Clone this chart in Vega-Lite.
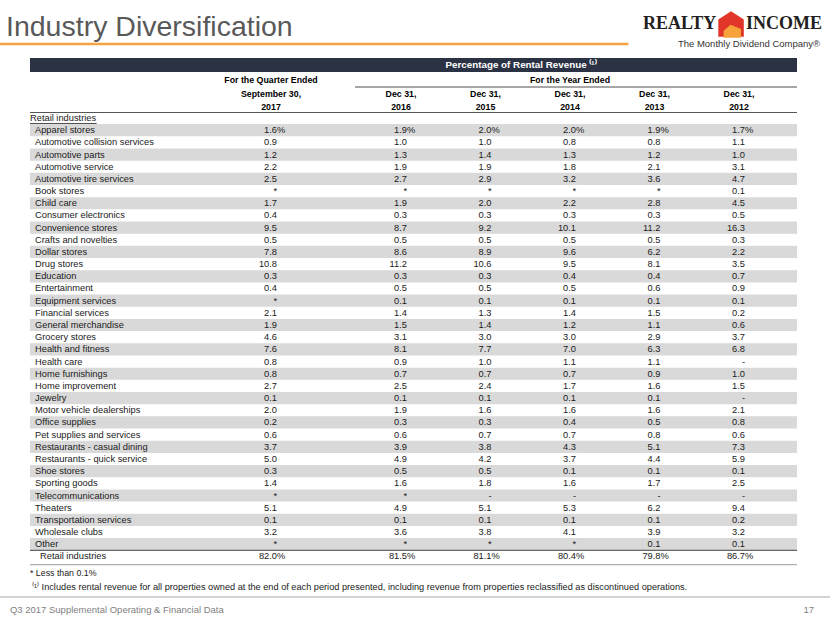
{
  "$schema": "https://vega.github.io/schema/vega-lite/v6.json",
  "width": 830,
  "height": 623,
  "autosize": "none",
  "padding": 0,
  "background": "white",
  "config": {"view": {"stroke": null}, "text": {"font": "Liberation Sans", "fontSize": 9.3, "color": "#1a1a1a", "baseline": "middle"}},
  "data": {"values": [{"n": 1}]},
  "datasets": {
    "body": [
      {"row": 0, "label": "Apparel stores", "q3_2017": "1.6", "dec_2016": "1.9", "dec_2015": "2.0", "dec_2014": "2.0", "dec_2013": "1.9", "dec_2012": "1.7", "unit": "%"},
      {"row": 1, "label": "Automotive collision services", "q3_2017": "0.9", "dec_2016": "1.0", "dec_2015": "1.0", "dec_2014": "0.8", "dec_2013": "0.8", "dec_2012": "1.1"},
      {"row": 2, "label": "Automotive parts", "q3_2017": "1.2", "dec_2016": "1.3", "dec_2015": "1.4", "dec_2014": "1.3", "dec_2013": "1.2", "dec_2012": "1.0"},
      {"row": 3, "label": "Automotive service", "q3_2017": "2.2", "dec_2016": "1.9", "dec_2015": "1.9", "dec_2014": "1.8", "dec_2013": "2.1", "dec_2012": "3.1"},
      {"row": 4, "label": "Automotive tire services", "q3_2017": "2.5", "dec_2016": "2.7", "dec_2015": "2.9", "dec_2014": "3.2", "dec_2013": "3.6", "dec_2012": "4.7"},
      {"row": 5, "label": "Book stores", "q3_2017": "*", "dec_2016": "*", "dec_2015": "*", "dec_2014": "*", "dec_2013": "*", "dec_2012": "0.1"},
      {"row": 6, "label": "Child care", "q3_2017": "1.7", "dec_2016": "1.9", "dec_2015": "2.0", "dec_2014": "2.2", "dec_2013": "2.8", "dec_2012": "4.5"},
      {"row": 7, "label": "Consumer electronics", "q3_2017": "0.4", "dec_2016": "0.3", "dec_2015": "0.3", "dec_2014": "0.3", "dec_2013": "0.3", "dec_2012": "0.5"},
      {"row": 8, "label": "Convenience stores", "q3_2017": "9.5", "dec_2016": "8.7", "dec_2015": "9.2", "dec_2014": "10.1", "dec_2013": "11.2", "dec_2012": "16.3"},
      {"row": 9, "label": "Crafts and novelties", "q3_2017": "0.5", "dec_2016": "0.5", "dec_2015": "0.5", "dec_2014": "0.5", "dec_2013": "0.5", "dec_2012": "0.3"},
      {"row": 10, "label": "Dollar stores", "q3_2017": "7.8", "dec_2016": "8.6", "dec_2015": "8.9", "dec_2014": "9.6", "dec_2013": "6.2", "dec_2012": "2.2"},
      {"row": 11, "label": "Drug stores", "q3_2017": "10.8", "dec_2016": "11.2", "dec_2015": "10.6", "dec_2014": "9.5", "dec_2013": "8.1", "dec_2012": "3.5"},
      {"row": 12, "label": "Education", "q3_2017": "0.3", "dec_2016": "0.3", "dec_2015": "0.3", "dec_2014": "0.4", "dec_2013": "0.4", "dec_2012": "0.7"},
      {"row": 13, "label": "Entertainment", "q3_2017": "0.4", "dec_2016": "0.5", "dec_2015": "0.5", "dec_2014": "0.5", "dec_2013": "0.6", "dec_2012": "0.9"},
      {"row": 14, "label": "Equipment services", "q3_2017": "*", "dec_2016": "0.1", "dec_2015": "0.1", "dec_2014": "0.1", "dec_2013": "0.1", "dec_2012": "0.1"},
      {"row": 15, "label": "Financial services", "q3_2017": "2.1", "dec_2016": "1.4", "dec_2015": "1.3", "dec_2014": "1.4", "dec_2013": "1.5", "dec_2012": "0.2"},
      {"row": 16, "label": "General merchandise", "q3_2017": "1.9", "dec_2016": "1.5", "dec_2015": "1.4", "dec_2014": "1.2", "dec_2013": "1.1", "dec_2012": "0.6"},
      {"row": 17, "label": "Grocery stores", "q3_2017": "4.6", "dec_2016": "3.1", "dec_2015": "3.0", "dec_2014": "3.0", "dec_2013": "2.9", "dec_2012": "3.7"},
      {"row": 18, "label": "Health and fitness", "q3_2017": "7.6", "dec_2016": "8.1", "dec_2015": "7.7", "dec_2014": "7.0", "dec_2013": "6.3", "dec_2012": "6.8"},
      {"row": 19, "label": "Health care", "q3_2017": "0.8", "dec_2016": "0.9", "dec_2015": "1.0", "dec_2014": "1.1", "dec_2013": "1.1", "dec_2012": "-"},
      {"row": 20, "label": "Home furnishings", "q3_2017": "0.8", "dec_2016": "0.7", "dec_2015": "0.7", "dec_2014": "0.7", "dec_2013": "0.9", "dec_2012": "1.0"},
      {"row": 21, "label": "Home improvement", "q3_2017": "2.7", "dec_2016": "2.5", "dec_2015": "2.4", "dec_2014": "1.7", "dec_2013": "1.6", "dec_2012": "1.5"},
      {"row": 22, "label": "Jewelry", "q3_2017": "0.1", "dec_2016": "0.1", "dec_2015": "0.1", "dec_2014": "0.1", "dec_2013": "0.1", "dec_2012": "-"},
      {"row": 23, "label": "Motor vehicle dealerships", "q3_2017": "2.0", "dec_2016": "1.9", "dec_2015": "1.6", "dec_2014": "1.6", "dec_2013": "1.6", "dec_2012": "2.1"},
      {"row": 24, "label": "Office supplies", "q3_2017": "0.2", "dec_2016": "0.3", "dec_2015": "0.3", "dec_2014": "0.4", "dec_2013": "0.5", "dec_2012": "0.8"},
      {"row": 25, "label": "Pet supplies and services", "q3_2017": "0.6", "dec_2016": "0.6", "dec_2015": "0.7", "dec_2014": "0.7", "dec_2013": "0.8", "dec_2012": "0.6"},
      {"row": 26, "label": "Restaurants - casual dining", "q3_2017": "3.7", "dec_2016": "3.9", "dec_2015": "3.8", "dec_2014": "4.3", "dec_2013": "5.1", "dec_2012": "7.3"},
      {"row": 27, "label": "Restaurants - quick service", "q3_2017": "5.0", "dec_2016": "4.9", "dec_2015": "4.2", "dec_2014": "3.7", "dec_2013": "4.4", "dec_2012": "5.9"},
      {"row": 28, "label": "Shoe stores", "q3_2017": "0.3", "dec_2016": "0.5", "dec_2015": "0.5", "dec_2014": "0.1", "dec_2013": "0.1", "dec_2012": "0.1"},
      {"row": 29, "label": "Sporting goods", "q3_2017": "1.4", "dec_2016": "1.6", "dec_2015": "1.8", "dec_2014": "1.6", "dec_2013": "1.7", "dec_2012": "2.5"},
      {"row": 30, "label": "Telecommunications", "q3_2017": "*", "dec_2016": "*", "dec_2015": "-", "dec_2014": "-", "dec_2013": "-", "dec_2012": "-"},
      {"row": 31, "label": "Theaters", "q3_2017": "5.1", "dec_2016": "4.9", "dec_2015": "5.1", "dec_2014": "5.3", "dec_2013": "6.2", "dec_2012": "9.4"},
      {"row": 32, "label": "Transportation services", "q3_2017": "0.1", "dec_2016": "0.1", "dec_2015": "0.1", "dec_2014": "0.1", "dec_2013": "0.1", "dec_2012": "0.2"},
      {"row": 33, "label": "Wholesale clubs", "q3_2017": "3.2", "dec_2016": "3.6", "dec_2015": "3.8", "dec_2014": "4.1", "dec_2013": "3.9", "dec_2012": "3.2"},
      {"row": 34, "label": "Other", "q3_2017": "*", "dec_2016": "*", "dec_2015": "*", "dec_2014": "*", "dec_2013": "0.1", "dec_2012": "0.1"},
      {"row": 35, "label": "Retail industries", "q3_2017": "82.0", "dec_2016": "81.5", "dec_2015": "81.1", "dec_2014": "80.4", "dec_2013": "79.8", "dec_2012": "86.7", "unit": "%"}
    ],
    "columns": [
      {"period": "q3_2017", "col": 1},
      {"period": "dec_2016", "col": 2},
      {"period": "dec_2015", "col": 3},
      {"period": "dec_2014", "col": 4},
      {"period": "dec_2013", "col": 5},
      {"period": "dec_2012", "col": 6}
    ],
    "heads": [
      {"col": 1, "line": -5, "text": "For the Quarter Ended"},
      {"col": 1, "line": -4, "text": "September 30,"},
      {"col": 1, "line": -3, "text": "2017"},
      {"col": 4, "line": -5, "text": "For the Year Ended"},
      {"col": 2, "line": -4, "text": "Dec 31,"},
      {"col": 2, "line": -3, "text": "2016"},
      {"col": 3, "line": -4, "text": "Dec 31,"},
      {"col": 3, "line": -3, "text": "2015"},
      {"col": 4, "line": -4, "text": "Dec 31,"},
      {"col": 4, "line": -3, "text": "2014"},
      {"col": 5, "line": -4, "text": "Dec 31,"},
      {"col": 5, "line": -3, "text": "2013"},
      {"col": 6, "line": -4, "text": "Dec 31,"},
      {"col": 6, "line": -3, "text": "2012"}
    ]
  },
  "layer": [
    {
      "data": {"name": "body"},
      "transform": [{"filter": "datum.row % 2 == 0 && datum.row < 35"}],
      "mark": {"type": "rule", "color": "#d9d9d9", "strokeWidth": 12.2, "strokeCap": "butt"},
      "encoding": {
        "x": {"datum": 0, "type": "quantitative", "axis": null, "scale": {"domain": [-1, 0, 1, 2, 6, 7, 8], "range": [0, 30, 277, 407, 745, 797, 830], "nice": false, "zero": false}},
        "x2": {"datum": 7},
        "y": {"field": "row", "type": "quantitative", "axis": null, "scale": {"domain": [-9, -8, -6, -5, -4, -3, -1, 35, 36, 37, 38, 39], "range": [24, 44, 65, 80, 94, 107, 118, 556.4, 573, 587, 597, 610], "nice": false, "zero": false}}
      }
    },
    {
      "mark": {"type": "rule", "color": "#2b3244", "strokeWidth": 14, "strokeCap": "butt"},
      "encoding": {
        "x": {"datum": 0, "type": "quantitative", "axis": null, "scale": {"domain": [-1, 0, 1, 2, 6, 7, 8], "range": [0, 30, 277, 407, 745, 797, 830], "nice": false, "zero": false}},
        "x2": {"datum": 7},
        "y": {"datum": -6, "type": "quantitative", "axis": null, "scale": {"domain": [-9, -8, -6, -5, -4, -3, -1, 35, 36, 37, 38, 39], "range": [24, 44, 65, 80, 94, 107, 118, 556.4, 573, 587, 597, 610], "nice": false, "zero": false}}
      }
    },
    {
      "mark": {"type": "text", "color": "white", "fontWeight": "bold", "fontSize": 9.8, "align": "center"},
      "encoding": {
        "text": {"value": "Percentage of Rental Revenue ⁽¹⁾"},
        "x": {"datum": 3.35, "type": "quantitative", "axis": null, "scale": {"domain": [-1, 0, 1, 2, 6, 7, 8], "range": [0, 30, 277, 407, 745, 797, 830], "nice": false, "zero": false}},
        "y": {"datum": -6, "type": "quantitative", "axis": null, "scale": {"domain": [-9, -8, -6, -5, -4, -3, -1, 35, 36, 37, 38, 39], "range": [24, 44, 65, 80, 94, 107, 118, 556.4, 573, 587, 597, 610], "nice": false, "zero": false}}
      }
    },
    {
      "data": {"name": "heads"},
      "mark": {"type": "text", "fontWeight": "bold", "fontSize": 8.8, "align": "center", "dx": -6, "color": "#000"},
      "encoding": {
        "text": {"field": "text", "type": "nominal"},
        "x": {"field": "col", "type": "quantitative", "axis": null, "scale": {"domain": [-1, 0, 1, 2, 6, 7, 8], "range": [0, 30, 277, 407, 745, 797, 830], "nice": false, "zero": false}},
        "y": {"field": "line", "type": "quantitative", "axis": null, "scale": {"domain": [-9, -8, -6, -5, -4, -3, -1, 35, 36, 37, 38, 39], "range": [24, 44, 65, 80, 94, 107, 118, 556.4, 573, 587, 597, 610], "nice": false, "zero": false}}
      }
    },
    {
      "mark": {"type": "rule", "color": "#222", "strokeWidth": 0.8},
      "encoding": {
        "x": {"datum": 1.6, "type": "quantitative", "axis": null, "scale": {"domain": [-1, 0, 1, 2, 6, 7, 8], "range": [0, 30, 277, 407, 745, 797, 830], "nice": false, "zero": false}},
        "x2": {"datum": 7},
        "y": {"datum": -4.5, "type": "quantitative", "axis": null, "scale": {"domain": [-9, -8, -6, -5, -4, -3, -1, 35, 36, 37, 38, 39], "range": [24, 44, 65, 80, 94, 107, 118, 556.4, 573, 587, 597, 610], "nice": false, "zero": false}}
      }
    },
    {
      "mark": {"type": "rule", "color": "#555", "strokeWidth": 1.2},
      "encoding": {
        "x": {"datum": 0, "type": "quantitative", "axis": null, "scale": {"domain": [-1, 0, 1, 2, 6, 7, 8], "range": [0, 30, 277, 407, 745, 797, 830], "nice": false, "zero": false}},
        "x2": {"datum": 7},
        "y": {"datum": -2, "type": "quantitative", "axis": null, "scale": {"domain": [-9, -8, -6, -5, -4, -3, -1, 35, 36, 37, 38, 39], "range": [24, 44, 65, 80, 94, 107, 118, 556.4, 573, 587, 597, 610], "nice": false, "zero": false}}
      }
    },
    {
      "mark": {"type": "text", "align": "left"},
      "encoding": {
        "text": {"value": "Retail industries"},
        "x": {"datum": 0, "type": "quantitative", "axis": null, "scale": {"domain": [-1, 0, 1, 2, 6, 7, 8], "range": [0, 30, 277, 407, 745, 797, 830], "nice": false, "zero": false}},
        "y": {"datum": -1, "type": "quantitative", "axis": null, "scale": {"domain": [-9, -8, -6, -5, -4, -3, -1, 35, 36, 37, 38, 39], "range": [24, 44, 65, 80, 94, 107, 118, 556.4, 573, 587, 597, 610], "nice": false, "zero": false}}
      }
    },
    {
      "mark": {"type": "rule", "color": "#222", "strokeWidth": 0.8},
      "encoding": {
        "x": {"datum": 0, "type": "quantitative", "axis": null, "scale": {"domain": [-1, 0, 1, 2, 6, 7, 8], "range": [0, 30, 277, 407, 745, 797, 830], "nice": false, "zero": false}},
        "x2": {"datum": 0.27},
        "y": {"datum": -0.55, "type": "quantitative", "axis": null, "scale": {"domain": [-9, -8, -6, -5, -4, -3, -1, 35, 36, 37, 38, 39], "range": [24, 44, 65, 80, 94, 107, 118, 556.4, 573, 587, 597, 610], "nice": false, "zero": false}}
      }
    },
    {
      "data": {"name": "body"},
      "transform": [{"filter": "datum.row < 35"}],
      "mark": {"type": "text", "align": "left", "dx": 5},
      "encoding": {
        "text": {"field": "label", "type": "nominal"},
        "x": {"datum": 0, "type": "quantitative", "axis": null, "scale": {"domain": [-1, 0, 1, 2, 6, 7, 8], "range": [0, 30, 277, 407, 745, 797, 830], "nice": false, "zero": false}},
        "y": {"field": "row", "type": "quantitative", "axis": null, "scale": {"domain": [-9, -8, -6, -5, -4, -3, -1, 35, 36, 37, 38, 39], "range": [24, 44, 65, 80, 94, 107, 118, 556.4, 573, 587, 597, 610], "nice": false, "zero": false}}
      }
    },
    {
      "data": {"name": "body"},
      "transform": [{"filter": "datum.row == 35"}],
      "mark": {"type": "text", "align": "left", "dx": 10},
      "encoding": {
        "text": {"field": "label", "type": "nominal"},
        "x": {"datum": 0, "type": "quantitative", "axis": null, "scale": {"domain": [-1, 0, 1, 2, 6, 7, 8], "range": [0, 30, 277, 407, 745, 797, 830], "nice": false, "zero": false}},
        "y": {"field": "row", "type": "quantitative", "axis": null, "scale": {"domain": [-9, -8, -6, -5, -4, -3, -1, 35, 36, 37, 38, 39], "range": [24, 44, 65, 80, 94, 107, 118, 556.4, 573, 587, 597, 610], "nice": false, "zero": false}}
      }
    },
    {
      "data": {"name": "body"},
      "transform": [
        {"fold": ["q3_2017", "dec_2016", "dec_2015", "dec_2014", "dec_2013", "dec_2012"], "as": ["period", "value"]},
        {"lookup": "period", "from": {"data": {"name": "columns"}, "key": "period", "fields": ["col"]}}
      ],
      "mark": {"type": "text", "align": "right"},
      "encoding": {
        "text": {"field": "value", "type": "nominal"},
        "x": {"field": "col", "type": "quantitative", "axis": null, "scale": {"domain": [-1, 0, 1, 2, 6, 7, 8], "range": [0, 30, 277, 407, 745, 797, 830], "nice": false, "zero": false}},
        "y": {"field": "row", "type": "quantitative", "axis": null, "scale": {"domain": [-9, -8, -6, -5, -4, -3, -1, 35, 36, 37, 38, 39], "range": [24, 44, 65, 80, 94, 107, 118, 556.4, 573, 587, 597, 610], "nice": false, "zero": false}}
      }
    },
    {
      "data": {"name": "body"},
      "transform": [
        {"filter": "datum.unit == '%'"},
        {"fold": ["q3_2017", "dec_2016", "dec_2015", "dec_2014", "dec_2013", "dec_2012"], "as": ["period", "value"]},
        {"lookup": "period", "from": {"data": {"name": "columns"}, "key": "period", "fields": ["col"]}}
      ],
      "mark": {"type": "text", "align": "left"},
      "encoding": {
        "text": {"field": "unit", "type": "nominal"},
        "x": {"field": "col", "type": "quantitative", "axis": null, "scale": {"domain": [-1, 0, 1, 2, 6, 7, 8], "range": [0, 30, 277, 407, 745, 797, 830], "nice": false, "zero": false}},
        "y": {"field": "row", "type": "quantitative", "axis": null, "scale": {"domain": [-9, -8, -6, -5, -4, -3, -1, 35, 36, 37, 38, 39], "range": [24, 44, 65, 80, 94, 107, 118, 556.4, 573, 587, 597, 610], "nice": false, "zero": false}}
      }
    },
    {
      "mark": {"type": "rule", "color": "#444", "strokeWidth": 1},
      "encoding": {
        "x": {"datum": 0, "type": "quantitative", "axis": null, "scale": {"domain": [-1, 0, 1, 2, 6, 7, 8], "range": [0, 30, 277, 407, 745, 797, 830], "nice": false, "zero": false}},
        "x2": {"datum": 7},
        "y": {"datum": 34.5, "type": "quantitative", "axis": null, "scale": {"domain": [-9, -8, -6, -5, -4, -3, -1, 35, 36, 37, 38, 39], "range": [24, 44, 65, 80, 94, 107, 118, 556.4, 573, 587, 597, 610], "nice": false, "zero": false}}
      }
    },
    {
      "mark": {"type": "rule", "color": "#9a9a9a", "strokeWidth": 1},
      "encoding": {
        "x": {"datum": 0, "type": "quantitative", "axis": null, "scale": {"domain": [-1, 0, 1, 2, 6, 7, 8], "range": [0, 30, 277, 407, 745, 797, 830], "nice": false, "zero": false}},
        "x2": {"datum": 7},
        "y": {"datum": 35.5, "type": "quantitative", "axis": null, "scale": {"domain": [-9, -8, -6, -5, -4, -3, -1, 35, 36, 37, 38, 39], "range": [24, 44, 65, 80, 94, 107, 118, 556.4, 573, 587, 597, 610], "nice": false, "zero": false}}
      }
    },
    {
      "mark": {"type": "text", "align": "left", "fontSize": 8.8},
      "encoding": {
        "text": {"value": "* Less than 0.1%"},
        "x": {"datum": 0, "type": "quantitative", "axis": null, "scale": {"domain": [-1, 0, 1, 2, 6, 7, 8], "range": [0, 30, 277, 407, 745, 797, 830], "nice": false, "zero": false}},
        "y": {"datum": 36, "type": "quantitative", "axis": null, "scale": {"domain": [-9, -8, -6, -5, -4, -3, -1, 35, 36, 37, 38, 39], "range": [24, 44, 65, 80, 94, 107, 118, 556.4, 573, 587, 597, 610], "nice": false, "zero": false}}
      }
    },
    {
      "mark": {"type": "text", "align": "left", "fontSize": 9.2, "dx": 2},
      "encoding": {
        "text": {"value": "⁽¹⁾ Includes rental revenue for all properties owned at the end of each period presented, including revenue from properties reclassified as discontinued operations."},
        "x": {"datum": 0, "type": "quantitative", "axis": null, "scale": {"domain": [-1, 0, 1, 2, 6, 7, 8], "range": [0, 30, 277, 407, 745, 797, 830], "nice": false, "zero": false}},
        "y": {"datum": 37, "type": "quantitative", "axis": null, "scale": {"domain": [-9, -8, -6, -5, -4, -3, -1, 35, 36, 37, 38, 39], "range": [24, 44, 65, 80, 94, 107, 118, 556.4, 573, 587, 597, 610], "nice": false, "zero": false}}
      }
    },
    {
      "mark": {"type": "rule", "color": "#d4d4d4", "strokeWidth": 2},
      "encoding": {
        "x": {"datum": -1, "type": "quantitative", "axis": null, "scale": {"domain": [-1, 0, 1, 2, 6, 7, 8], "range": [0, 30, 277, 407, 745, 797, 830], "nice": false, "zero": false}},
        "x2": {"datum": 8},
        "y": {"datum": 38, "type": "quantitative", "axis": null, "scale": {"domain": [-9, -8, -6, -5, -4, -3, -1, 35, 36, 37, 38, 39], "range": [24, 44, 65, 80, 94, 107, 118, 556.4, 573, 587, 597, 610], "nice": false, "zero": false}}
      }
    },
    {
      "mark": {"type": "text", "align": "left", "fontSize": 9.5, "color": "#7f7f7f"},
      "encoding": {
        "text": {"value": "Q3 2017 Supplemental Operating & Financial Data"},
        "x": {"datum": -0.67, "type": "quantitative", "axis": null, "scale": {"domain": [-1, 0, 1, 2, 6, 7, 8], "range": [0, 30, 277, 407, 745, 797, 830], "nice": false, "zero": false}},
        "y": {"datum": 39, "type": "quantitative", "axis": null, "scale": {"domain": [-9, -8, -6, -5, -4, -3, -1, 35, 36, 37, 38, 39], "range": [24, 44, 65, 80, 94, 107, 118, 556.4, 573, 587, 597, 610], "nice": false, "zero": false}}
      }
    },
    {
      "mark": {"type": "text", "align": "right", "fontSize": 9.5, "color": "#7f7f7f"},
      "encoding": {
        "text": {"value": "17"},
        "x": {"datum": 7.52, "type": "quantitative", "axis": null, "scale": {"domain": [-1, 0, 1, 2, 6, 7, 8], "range": [0, 30, 277, 407, 745, 797, 830], "nice": false, "zero": false}},
        "y": {"datum": 39, "type": "quantitative", "axis": null, "scale": {"domain": [-9, -8, -6, -5, -4, -3, -1, 35, 36, 37, 38, 39], "range": [24, 44, 65, 80, 94, 107, 118, 556.4, 573, 587, 597, 610], "nice": false, "zero": false}}
      }
    },
    {
      "mark": {"type": "text", "align": "left", "baseline": "alphabetic", "dy": 12, "fontSize": 28.5, "color": "#595959"},
      "encoding": {
        "text": {"value": "Industry Diversification"},
        "x": {"datum": -0.8, "type": "quantitative", "axis": null, "scale": {"domain": [-1, 0, 1, 2, 6, 7, 8], "range": [0, 30, 277, 407, 745, 797, 830], "nice": false, "zero": false}},
        "y": {"datum": -9, "type": "quantitative", "axis": null, "scale": {"domain": [-9, -8, -6, -5, -4, -3, -1, 35, 36, 37, 38, 39], "range": [24, 44, 65, 80, 94, 107, 118, 556.4, 573, 587, 597, 610], "nice": false, "zero": false}}
      }
    },
    {
      "mark": {"type": "rule", "color": "#f6a240", "strokeWidth": 2.5},
      "encoding": {
        "x": {"datum": -1, "type": "quantitative", "axis": null, "scale": {"domain": [-1, 0, 1, 2, 6, 7, 8], "range": [0, 30, 277, 407, 745, 797, 830], "nice": false, "zero": false}},
        "x2": {"datum": 4.62},
        "y": {"datum": -8, "type": "quantitative", "axis": null, "scale": {"domain": [-9, -8, -6, -5, -4, -3, -1, 35, 36, 37, 38, 39], "range": [24, 44, 65, 80, 94, 107, 118, 556.4, 573, 587, 597, 610], "nice": false, "zero": false}}
      }
    },
    {
      "mark": {"type": "text", "align": "right", "font": "Liberation Serif", "fontWeight": "bold", "fontSize": 18, "color": "#231f20"},
      "encoding": {
        "text": {"value": "REALTY"},
        "x": {"datum": 5.66, "type": "quantitative", "axis": null, "scale": {"domain": [-1, 0, 1, 2, 6, 7, 8], "range": [0, 30, 277, 407, 745, 797, 830], "nice": false, "zero": false}},
        "y": {"datum": -9, "type": "quantitative", "axis": null, "scale": {"domain": [-9, -8, -6, -5, -4, -3, -1, 35, 36, 37, 38, 39], "range": [24, 44, 65, 80, 94, 107, 118, 556.4, 573, 587, 597, 610], "nice": false, "zero": false}}
      }
    },
    {
      "mark": {"type": "text", "align": "left", "font": "Liberation Serif", "fontWeight": "bold", "fontSize": 18, "color": "#231f20"},
      "encoding": {
        "text": {"value": "INCOME"},
        "x": {"datum": 6.02, "type": "quantitative", "axis": null, "scale": {"domain": [-1, 0, 1, 2, 6, 7, 8], "range": [0, 30, 277, 407, 745, 797, 830], "nice": false, "zero": false}},
        "y": {"datum": -9, "type": "quantitative", "axis": null, "scale": {"domain": [-9, -8, -6, -5, -4, -3, -1, 35, 36, 37, 38, 39], "range": [24, 44, 65, 80, 94, 107, 118, 556.4, 573, 587, 597, 610], "nice": false, "zero": false}}
      }
    },
    {
      "mark": {"type": "point", "shape": "M0,-1L1,-0.35L1,1L-1,1L-1,-0.35Z", "filled": true, "color": "#e2352a", "opacity": 1, "size": 650},
      "encoding": {
        "x": {"datum": 5.835, "type": "quantitative", "axis": null, "scale": {"domain": [-1, 0, 1, 2, 6, 7, 8], "range": [0, 30, 277, 407, 745, 797, 830], "nice": false, "zero": false}},
        "y": {"datum": -9, "type": "quantitative", "axis": null, "scale": {"domain": [-9, -8, -6, -5, -4, -3, -1, 35, 36, 37, 38, 39], "range": [24, 44, 65, 80, 94, 107, 118, 556.4, 573, 587, 597, 610], "nice": false, "zero": false}}
      }
    },
    {
      "mark": {"type": "point", "shape": "M-0.2,-0.5L1,0L1,1L-1,1L-1,0.2Z", "filled": true, "color": "#f7a23b", "opacity": 1, "size": 300},
      "encoding": {
        "x": {"datum": 5.85, "type": "quantitative", "axis": null, "scale": {"domain": [-1, 0, 1, 2, 6, 7, 8], "range": [0, 30, 277, 407, 745, 797, 830], "nice": false, "zero": false}},
        "y": {"datum": -8.75, "type": "quantitative", "axis": null, "scale": {"domain": [-9, -8, -6, -5, -4, -3, -1, 35, 36, 37, 38, 39], "range": [24, 44, 65, 80, 94, 107, 118, 556.4, 573, 587, 597, 610], "nice": false, "zero": false}}
      }
    },
    {
      "mark": {"type": "text", "align": "right", "font": "Liberation Sans", "fontSize": 9.5, "color": "#333"},
      "encoding": {
        "text": {"value": "The Monthly Dividend Company®"},
        "x": {"datum": 7.7, "type": "quantitative", "axis": null, "scale": {"domain": [-1, 0, 1, 2, 6, 7, 8], "range": [0, 30, 277, 407, 745, 797, 830], "nice": false, "zero": false}},
        "y": {"datum": -8, "type": "quantitative", "axis": null, "scale": {"domain": [-9, -8, -6, -5, -4, -3, -1, 35, 36, 37, 38, 39], "range": [24, 44, 65, 80, 94, 107, 118, 556.4, 573, 587, 597, 610], "nice": false, "zero": false}}
      }
    }
  ]
}
